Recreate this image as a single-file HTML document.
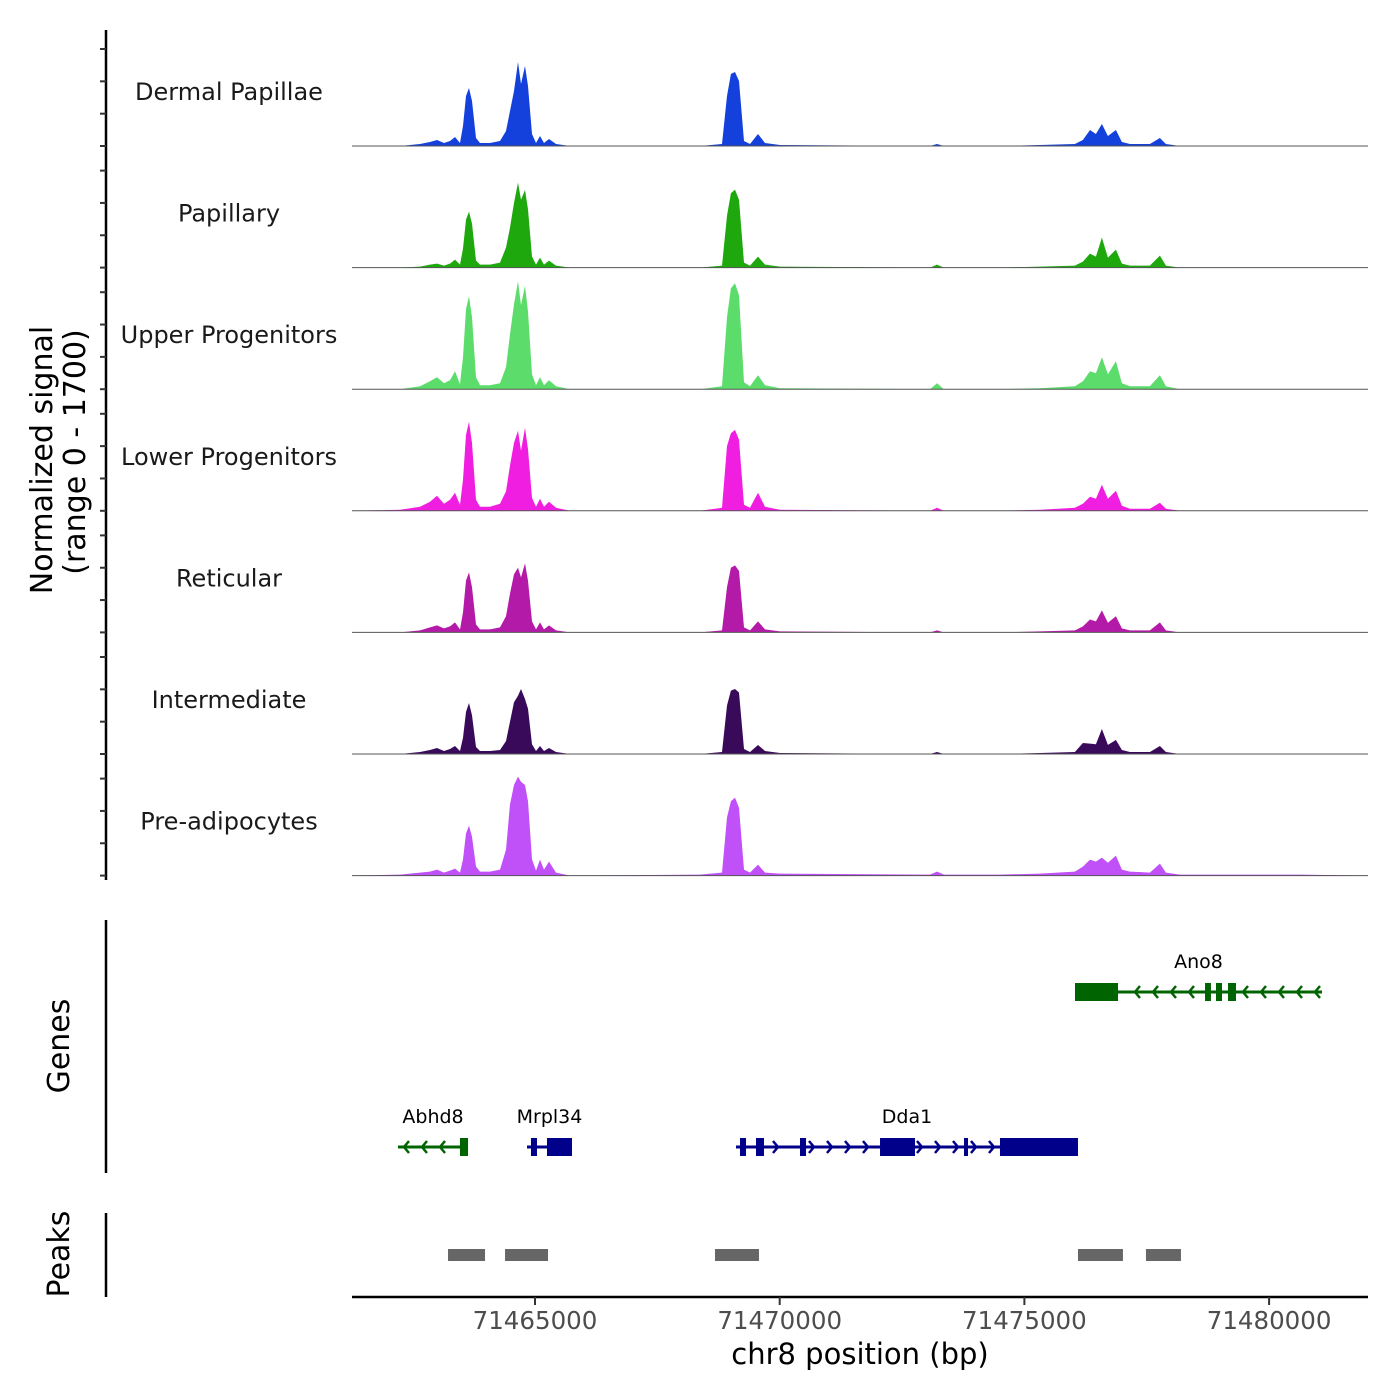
<!DOCTYPE html>
<html><head><meta charset="utf-8"><style>
html,body{margin:0;padding:0;background:#fff}
svg{display:block;font-family:"DejaVu Sans","Liberation Sans",sans-serif}
</style></head><body>
<svg id="chart" width="1400" height="1400" viewBox="0 0 1400 1400">
<g id="tracks"></g>
<g id="genes"></g>
<g id="peaks"></g>
<g id="axes"></g>
<text x="0" y="0" transform="translate(52,460) rotate(-90)" text-anchor="middle" font-size="30" fill="#000">Normalized signal</text>
<text x="0" y="0" transform="translate(85,452) rotate(-90)" text-anchor="middle" font-size="30" fill="#000">(range 0 - 1700)</text>
<text x="0" y="0" transform="translate(69,1046) rotate(-90)" text-anchor="middle" font-size="30" fill="#000">Genes</text>
<text x="0" y="0" transform="translate(69,1254) rotate(-90)" text-anchor="middle" font-size="30" fill="#000">Peaks</text>
<text x="860" y="1364" text-anchor="middle" font-size="29" fill="#000">chr8 position (bp)</text>
</svg>
<script>
const trackNames = ["Dermal Papillae","Papillary","Upper Progenitors","Lower Progenitors","Reticular","Intermediate","Pre-adipocytes"];
const trackColors = ["#1440dc","#1ea80e","#5cdc6a","#f01ee0","#b41aa8","#3a0a5a","#c050f8"];
const positions = [71461261,71462241,71462650,71462854,71462997,71463140,71463263,71463366,71463467,71463529,71463590,71463652,71463713,71463795,71463876,71464081,71464285,71464408,71464489,71464571,71464652,71464714,71464795,71464857,71464939,71465021,71465102,71465184,71465287,71465430,71465716,71468371,71468821,71468923,71469004,71469087,71469168,71469270,71469393,71469556,71469699,71470006,71473071,71473214,71473356,71474501,71475318,71476033,71476196,71476340,71476462,71476584,71476707,71476870,71476993,71477156,71477565,71477769,71477892,71478178,71480630,71482021];
const sigDermal = [0,0,31,62,93,46,77,139,46,309,773,896,695,124,46,46,77,232,541,850,1298,958,1236,927,185,46,155,46,108,31,0,0,31,773,1112,1143,1004,77,31,185,46,15,0,31,0,0,15,31,93,247,185,340,155,247,62,31,31,124,31,0,0,0];
const sigPapillary = [0,0,15,46,62,31,62,124,46,293,742,865,680,108,46,46,77,309,618,1000,1313,1050,1200,900,170,46,155,46,108,31,0,0,31,800,1150,1205,1050,77,31,170,46,15,0,46,0,0,15,31,93,216,170,463,155,278,62,31,31,185,31,0,0,0];
const sigUpper = [0,0,46,124,185,93,139,278,77,494,1236,1437,1112,185,62,62,93,340,850,1313,1669,1300,1600,1200,232,62,185,62,139,46,0,0,46,1112,1560,1638,1450,108,46,216,62,15,0,93,0,0,15,46,124,278,247,494,232,433,93,46,46,216,46,0,0,0];
const sigLower = [0,15,62,139,232,108,170,278,93,479,1174,1375,1050,170,62,62,108,300,700,1050,1236,927,1282,950,200,62,185,62,139,46,0,0,46,1000,1200,1251,1100,93,46,278,62,15,0,46,0,0,15,46,108,216,185,402,185,309,77,31,31,124,31,0,0,0];
const sigReticular = [0,0,31,77,108,62,93,155,46,309,800,927,700,124,46,46,77,250,600,900,1000,850,1066,800,170,46,155,46,108,31,0,0,31,700,1000,1035,950,77,31,170,46,15,0,31,0,0,15,31,93,200,170,340,150,250,62,31,31,155,31,0,0,0];
const sigIntermediate = [0,0,31,62,93,46,77,124,46,250,650,788,600,108,46,46,62,200,500,800,900,1004,850,700,150,46,124,46,93,31,0,0,31,750,980,1004,950,77,31,139,46,15,0,31,0,0,15,31,170,160,150,386,140,216,62,31,31,124,31,0,0,0];
const sigPreadipo = [0,15,46,62,93,46,77,108,46,250,650,773,600,139,62,62,93,400,1100,1400,1530,1450,1400,1150,250,77,247,93,216,46,0,15,46,900,1150,1205,1050,93,46,170,46,31,15,62,15,15,31,62,139,247,216,278,200,309,93,62,46,185,46,15,15,0];
const allSignals = [sigDermal,sigPapillary,sigUpper,sigLower,sigReticular,sigIntermediate,sigPreadipo];
const xTicks = [71465000,71470000,71475000,71480000];
const yTickValues = [0,500,1000,1500];
const peakStarts = [71463223,71464388,71468678,71476095,71477484];
const peakEnds = [71463979,71465266,71469577,71477014,71478199];
const geneNames = ["Ano8","Abhd8","Mrpl34","Dda1"];
const geneStarts = [71476034,71462201,71464837,71469107];
const geneEnds = [71481081,71463632,71465756,71476095];
const geneStrands = ["-","-","+","+"];
const geneRows = [0,1,1,1];
const geneExons = [
 [[71476034,71476913],[71478691,71478812],[71478915,71479038],[71479161,71479324]],
 [[71463467,71463632]],
 [[71464918,71465041],[71465245,71465756]],
 [[71469189,71469312],[71469516,71469679],[71470415,71470538],[71472050,71472765],[71473766,71473848],[71474501,71476095]]
];

const NS="http://www.w3.org/2000/svg";
const X0=352, X1=1368, G0=71461261, G1=71482021;
function xs(g){return X0+(g-G0)/(G1-G0)*(X1-X0);}
const pitch=121.6, maxV=1700, trackH=110;
function baseY(i){return 146+i*pitch;}
function ys(i,v){return baseY(i)-v/maxV*trackH;}
function mk(tag,attrs,parent){const e=document.createElementNS(NS,tag);for(const k in attrs)e.setAttribute(k,attrs[k]);parent.appendChild(e);return e;}

const tracks=document.getElementById('tracks');
allSignals.forEach((sig,i)=>{
  let d="M"+xs(positions[0])+","+baseY(i);
  sig.forEach((v,j)=>{d+=" L"+xs(positions[j]).toFixed(1)+","+ys(i,v).toFixed(1);});
  d+=" L"+xs(positions[positions.length-1])+","+baseY(i)+" Z";
  const p=mk('path',{d:d,fill:trackColors[i]},tracks);
  
  
  const bl=mk('line',{x1:X0,x2:X1,y1:baseY(i),y2:baseY(i),stroke:'#555','stroke-width':1},tracks);
  
  
  const t=mk('text',{x:229,y:baseY(i)-46,'text-anchor':'middle','font-size':24,fill:'#1a1a1a'},tracks);
  t.textContent=trackNames[i];
  
  
});

const axes=document.getElementById('axes');
const yl=mk('line',{x1:106,x2:106,y1:30,y2:880,stroke:'#000','stroke-width':2.5},axes);


for(let i=0;i<7;i++){yTickValues.forEach(v=>{
  const yy=baseY(i)-v/1500*97;
  const tk=mk('line',{x1:100,x2:106,y1:yy,y2:yy,stroke:'#333','stroke-width':2},axes);
  
  
});}
[[920,1173],[1213,1297]].forEach(r=>{
  const l=mk('line',{x1:106,x2:106,y1:r[0],y2:r[1],stroke:'#000','stroke-width':2.5},axes);
  
  
});
const xl=mk('line',{x1:X0,x2:X1,y1:1297,y2:1297,stroke:'#000','stroke-width':2.5},axes);


xTicks.forEach(v=>{
  const tk=mk('line',{x1:xs(v),x2:xs(v),y1:1297,y2:1305,stroke:'#333','stroke-width':2},axes);
  
  
  const t=mk('text',{x:xs(v),y:1329,'text-anchor':'middle','font-size':24.5,fill:'#4d4d4d'},axes);
  t.textContent=String(v);
  
  
});

const peaks=document.getElementById('peaks');
peakStarts.forEach((s,i)=>{
  const r=mk('rect',{x:xs(s),y:1249,width:xs(peakEnds[i])-xs(s),height:12,fill:'#666'},peaks);
  
  
});

const genes=document.getElementById('genes');
geneNames.forEach((n,i)=>{
  const col=geneStrands[i]==="-"?"#006400":"#00008b";
  const y=geneRows[i]===0?992:1147;
  const g=mk('g',{},genes);
  
  
  mk('line',{x1:xs(geneStarts[i]),x2:xs(geneEnds[i]),y1:y,y2:y,stroke:col,'stroke-width':3},g);
  const a=xs(geneStarts[i]), b=xs(geneEnds[i]);
  const ex=geneExons[i];
  for(let x=a+6;x<b-3;x+=18){
    if(ex.some(e=>x>xs(e[0])-5&&x<xs(e[1])+5))continue;
    const dir=geneStrands[i]==="-"?-1:1;
    mk('polyline',{points:(x-dir*5)+","+(y-6)+" "+x+","+y+" "+(x-dir*5)+","+(y+6),fill:'none',stroke:col,'stroke-width':2.5},g);
  }
  ex.forEach(e=>{mk('rect',{x:xs(e[0]),y:y-9,width:Math.max(3,xs(e[1])-xs(e[0])),height:18,fill:col},g);});
  const t=mk('text',{x:(a+b)/2,y:y-24,'text-anchor':'middle','font-size':19,fill:'#000'},g);
  t.textContent=n;
  
  
});
</script>
</body></html>
